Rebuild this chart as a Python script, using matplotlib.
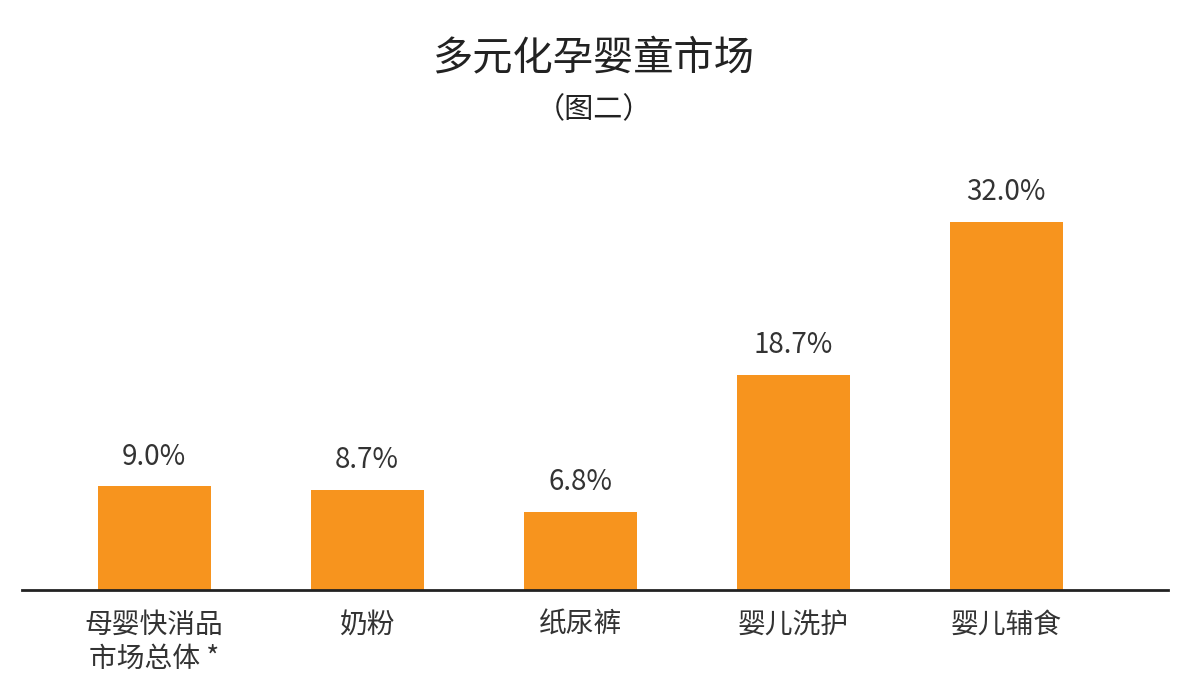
import matplotlib.pyplot as plt

plt.rcParams['font.family'] = ['Noto Sans CJK SC', 'DejaVu Sans']

categories = ['母婴快消品\n市场总体 *', '奶粉', '纸尿裤', '婴儿洗护', '婴儿辅食']
values = [9.0, 8.7, 6.8, 18.7, 32.0]
labels = ['9.0%', '8.7%', '6.8%', '18.7%', '32.0%']

W, H = 1188, 692
fig = plt.figure(figsize=(W / 100, H / 100), dpi=100)
ax = fig.add_axes([22 / W, (H - 590) / H, 1146 / W, 440 / H])

x = range(len(values))
ax.bar(x, values, width=0.53, color='#F7941E')
for i, (v, t) in enumerate(zip(values, labels)):
    ax.text(i, v + 1.3, t, ha='center', va='bottom', fontsize=20,
            color='#333333', fontweight='light')

ax.set_xlim(-0.62, 4.76)
ax.set_ylim(0, 38.26)
for s in ['top', 'right', 'left']:
    ax.spines[s].set_visible(False)
ax.spines['bottom'].set_linewidth(2)
ax.spines['bottom'].set_color('#222222')
ax.set_yticks([])
ax.set_xticks(list(x))
ax.set_xticklabels(categories, fontsize=20, color='#333333', linespacing=1.2)
ax.tick_params(axis='x', length=0, pad=14)

fig.text(594 / W, 1 - 58 / H, '多元化孕婴童市场', ha='center', va='center', fontsize=29, color='#222222')
fig.text(594 / W, 1 - 110 / H, '（图二）', ha='center', va='center', fontsize=21, color='#222222')

fig.savefig('out.png', dpi=100)
